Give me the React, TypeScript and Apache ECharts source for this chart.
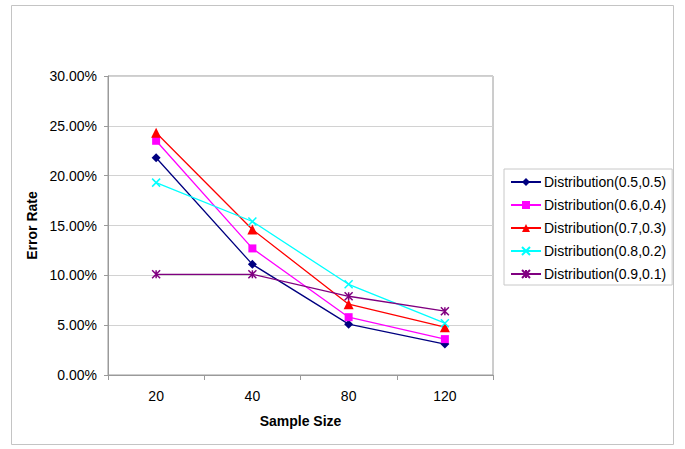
import React, { useEffect, useRef } from "react";
import * as echarts from "echarts";

const categories = ["20", "40", "80", "120"];
const seriesNames = [
  "Distribution(0.5,0.5)",
  "Distribution(0.6,0.4)",
  "Distribution(0.7,0.3)",
  "Distribution(0.8,0.2)",
  "Distribution(0.9,0.1)",
];
const d55 = [21.8, 11.1, 5.1, 3.1];
const d64 = [23.5, 12.7, 5.8, 3.6];
const d73 = [24.3, 14.6, 7.1, 4.8];
const d82 = [19.3, 15.4, 9.1, 5.2];
const d91 = [10.1, 10.1, 7.9, 6.4];

const FONT = "Liberation Sans, Arial, sans-serif";

export default function App() {
  const ref = useRef<HTMLDivElement>(null);
  useEffect(() => {
    if (!ref.current) return;
    const chart = echarts.init(ref.current, null, { renderer: "svg" });
    const mk = (name: string, data: number[], color: string, symbol: string, size: number, stroke = false) => ({
      name,
      type: "line",
      data,
      symbol,
      symbolSize: size,
      lineStyle: { color, width: 1.3 },
      itemStyle: stroke
        ? { color, borderColor: color, borderWidth: 1.5 }
        : { color, borderWidth: 0 },
      emphasis: { disabled: true },
    });
    chart.setOption({
      animation: false,
      backgroundColor: "#ffffff",
      textStyle: { fontFamily: FONT },
      graphic: [
        {
          type: "rect",
          shape: { x: 11.5, y: 5.5, width: 662, height: 439 },
          style: { fill: "none", stroke: "#c4c4c4", lineWidth: 1 },
          silent: true,
        },
      ],
      grid: {
        left: 108,
        right: 192,
        top: 76,
        bottom: 74,
        show: true,
        borderColor: "#9a9a9a",
        borderWidth: 1,
        backgroundColor: "transparent",
      },
      legend: {
        orient: "vertical",
        left: 504,
        top: 169,
        width: 166,
        padding: [6, 6, 4, 6],
        itemGap: 9,
        itemWidth: 30,
        itemHeight: 10,
        borderColor: "#c8c8c8",
        borderWidth: 1,
        textStyle: { fontSize: 14, color: "#000", fontFamily: FONT, padding: [0, 0, 0, -2], lineHeight: 14 },
        data: seriesNames,
      },
      xAxis: {
        type: "category",
        data: categories,
        boundaryGap: true,
        axisLine: { lineStyle: { color: "#9a9a9a" } },
        axisTick: { show: true, alignWithLabel: false, length: 5, lineStyle: { color: "#9a9a9a" } },
        axisLabel: { fontSize: 14, color: "#000", margin: 14, fontFamily: FONT },
        name: "Sample Size",
        nameLocation: "middle",
        nameGap: 39,
        nameTextStyle: { fontSize: 14, fontWeight: "bold", color: "#000", fontFamily: FONT },
      },
      yAxis: {
        type: "value",
        min: 0,
        max: 30,
        interval: 5,
        axisLine: { show: true, lineStyle: { color: "#9a9a9a" } },
        axisTick: { show: true, length: 4, lineStyle: { color: "#9a9a9a" } },
        axisLabel: {
          fontSize: 14,
          color: "#000",
          margin: 11,
          fontFamily: FONT,
          formatter: (v: number) => v.toFixed(2) + "%",
        },
        splitLine: { show: true, lineStyle: { color: "#d2d2d2", width: 1 } },
        name: "Error Rate",
        nameLocation: "middle",
        nameGap: 63,
        nameTextStyle: { fontSize: 14, fontWeight: "bold", color: "#000", fontFamily: FONT },
      },
      series: [
        mk(seriesNames[0], d55, "#000080", "diamond", 9),
        mk(seriesNames[1], d64, "#ff00ff", "rect", 8),
        mk(seriesNames[2], d73, "#ff0000", "triangle", 10),
        mk(seriesNames[3], d82, "#00ffff", "path://M0,0L10,10M10,0L0,10", 8, true),
        mk(seriesNames[4], d91, "#800080", "path://M0,0L10,10M10,0L0,10M5,0L5,10", 8, true),
      ],
    });
    return () => chart.dispose();
  }, []);
  return (
    <div
      ref={ref}
      style={{ position: "fixed", left: 0, top: 0, width: 685, height: 449, background: "#fff" }}
    />
  );
}
